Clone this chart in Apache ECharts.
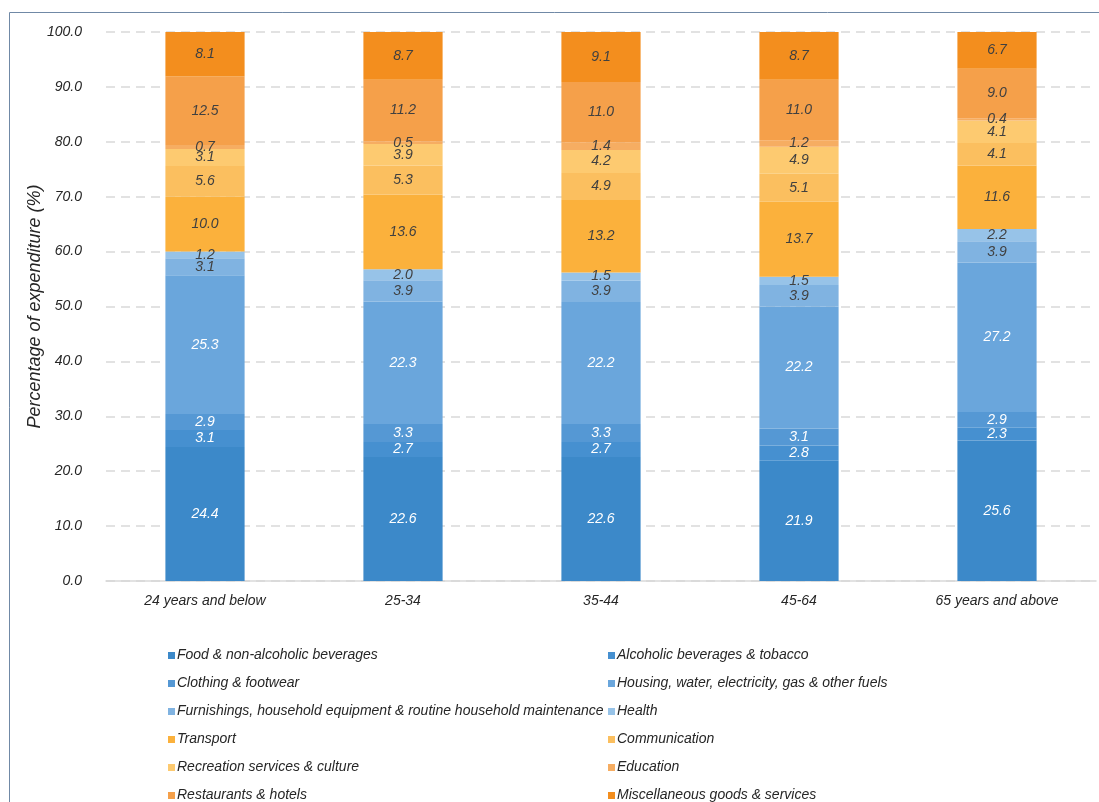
<!DOCTYPE html>
<html><head><meta charset="utf-8">
<script src="https://cdn.jsdelivr.net/npm/echarts@6/dist/echarts.min.js"></script>
<style>html,body{margin:0;padding:0;background:#fff}#c{width:1099px;height:802px}</style>
</head><body><div id="c"></div>
<script>
const categories = ['24 years and below', '25-34', '35-44', '45-64', '65 years and above'];
const seriesNames = [
  'Food & non-alcoholic beverages', 'Alcoholic beverages & tobacco',
  'Clothing & footwear', 'Housing, water, electricity, gas & other fuels',
  'Furnishings, household equipment & routine household maintenance', 'Health',
  'Transport', 'Communication',
  'Recreation services & culture', 'Education',
  'Restaurants & hotels', 'Miscellaneous goods & services'
];
const food = [24.4, 22.6, 22.6, 21.9, 25.6];
const alcohol = [3.1, 2.7, 2.7, 2.8, 2.3];
const clothing = [2.9, 3.3, 3.3, 3.1, 2.9];
const housing = [25.3, 22.3, 22.2, 22.2, 27.2];
const furnishings = [3.1, 3.9, 3.9, 3.9, 3.9];
const health = [1.2, 2.0, 1.5, 1.5, 2.2];
const transport = [10.0, 13.6, 13.2, 13.7, 11.6];
const communication = [5.6, 5.3, 4.9, 5.1, 4.1];
const recreation = [3.1, 3.9, 4.2, 4.9, 4.1];
const education = [0.7, 0.5, 1.4, 1.2, 0.4];
const restaurants = [12.5, 11.2, 11.0, 11.0, 9.0];
const misc = [8.1, 8.7, 9.1, 8.7, 6.7];
const yTicks = [0, 10, 20, 30, 40, 50, 60, 70, 80, 90, 100];

const values = [food, alcohol, clothing, housing, furnishings, health, transport, communication, recreation, education, restaurants, misc];
const colors = ['#3c89c9', '#4690d0', '#5598d4', '#6aa6dc', '#80b3e1', '#97c3e8',
  '#fbb13c', '#fbbf5f', '#fdca70', '#f6ad62', '#f5a04a', '#f38e1e'];
const labelColors = ['#ffffff', '#ffffff', '#ffffff', '#ffffff', '#404040', '#404040',
  '#404040', '#404040', '#404040', '#404040', '#404040', '#404040'];

const FONT = '"Liberation Sans", Arial, sans-serif';
const series = seriesNames.map((n, i) => ({
  name: n, type: 'bar', stack: 'total', data: values[i],
  barWidth: '40%',
  itemStyle: { color: colors[i] },
  label: {
    show: true, position: 'inside', formatter: p => p.value.toFixed(1),
    color: labelColors[i], fontSize: 14, fontStyle: 'italic', fontFamily: FONT
  },
  emphasis: { disabled: true }
}));

const legendCommon = {
  orient: 'vertical', itemWidth: 7, itemHeight: 7, itemGap: 13, icon: 'rect',
  height: 300, padding: 0,
  textStyle: { fontSize: 14, fontStyle: 'italic', fontFamily: FONT, color: '#262626', lineHeight: 15, padding: [0, 0, 0, -3] },
  selectedMode: false
};

const chart = echarts.init(document.getElementById('c'));
chart.setOption({
  animation: false,
  graphic: [{ type: 'rect', shape: { x: 9.5, y: 12.5, width: 1200, height: 900 }, style: { fill: 'none', stroke: '#7089a6', lineWidth: 1 }, silent: true }],
  legend: [
    Object.assign({}, legendCommon, { left: 168, top: 648, data: seriesNames.filter((_, i) => i % 2 === 0) }),
    Object.assign({}, legendCommon, { left: 608, top: 648, data: seriesNames.filter((_, i) => i % 2 === 1) })
  ],
  grid: { left: 106, right: 3, top: 32, bottom: 221 },
  xAxis: {
    type: 'category', data: categories,
    axisLine: { lineStyle: { color: '#d9d9d9', width: 1.5 } },
    axisTick: { show: false },
    axisLabel: { fontSize: 14, fontStyle: 'italic', fontFamily: FONT, color: '#262626', margin: 13 }
  },
  yAxis: {
    type: 'value', min: 0, max: 100, interval: 10,
    name: 'Percentage of expenditure (%)', nameLocation: 'middle', nameGap: 62, nameRotate: 90,
    nameMoveOverlap: false,
    nameTextStyle: { fontSize: 18, fontStyle: 'italic', fontFamily: FONT, color: '#262626' },
    axisLine: { show: false }, axisTick: { show: false },
    axisLabel: { fontSize: 14, fontStyle: 'italic', fontFamily: FONT, color: '#262626', margin: 24,
      formatter: v => yTicks.includes(v) ? v.toFixed(1) : '' },
    splitLine: { lineStyle: { color: '#d9d9d9', type: [9, 6], width: 1.5 } }
  },
  series: series
});
</script></body></html>
